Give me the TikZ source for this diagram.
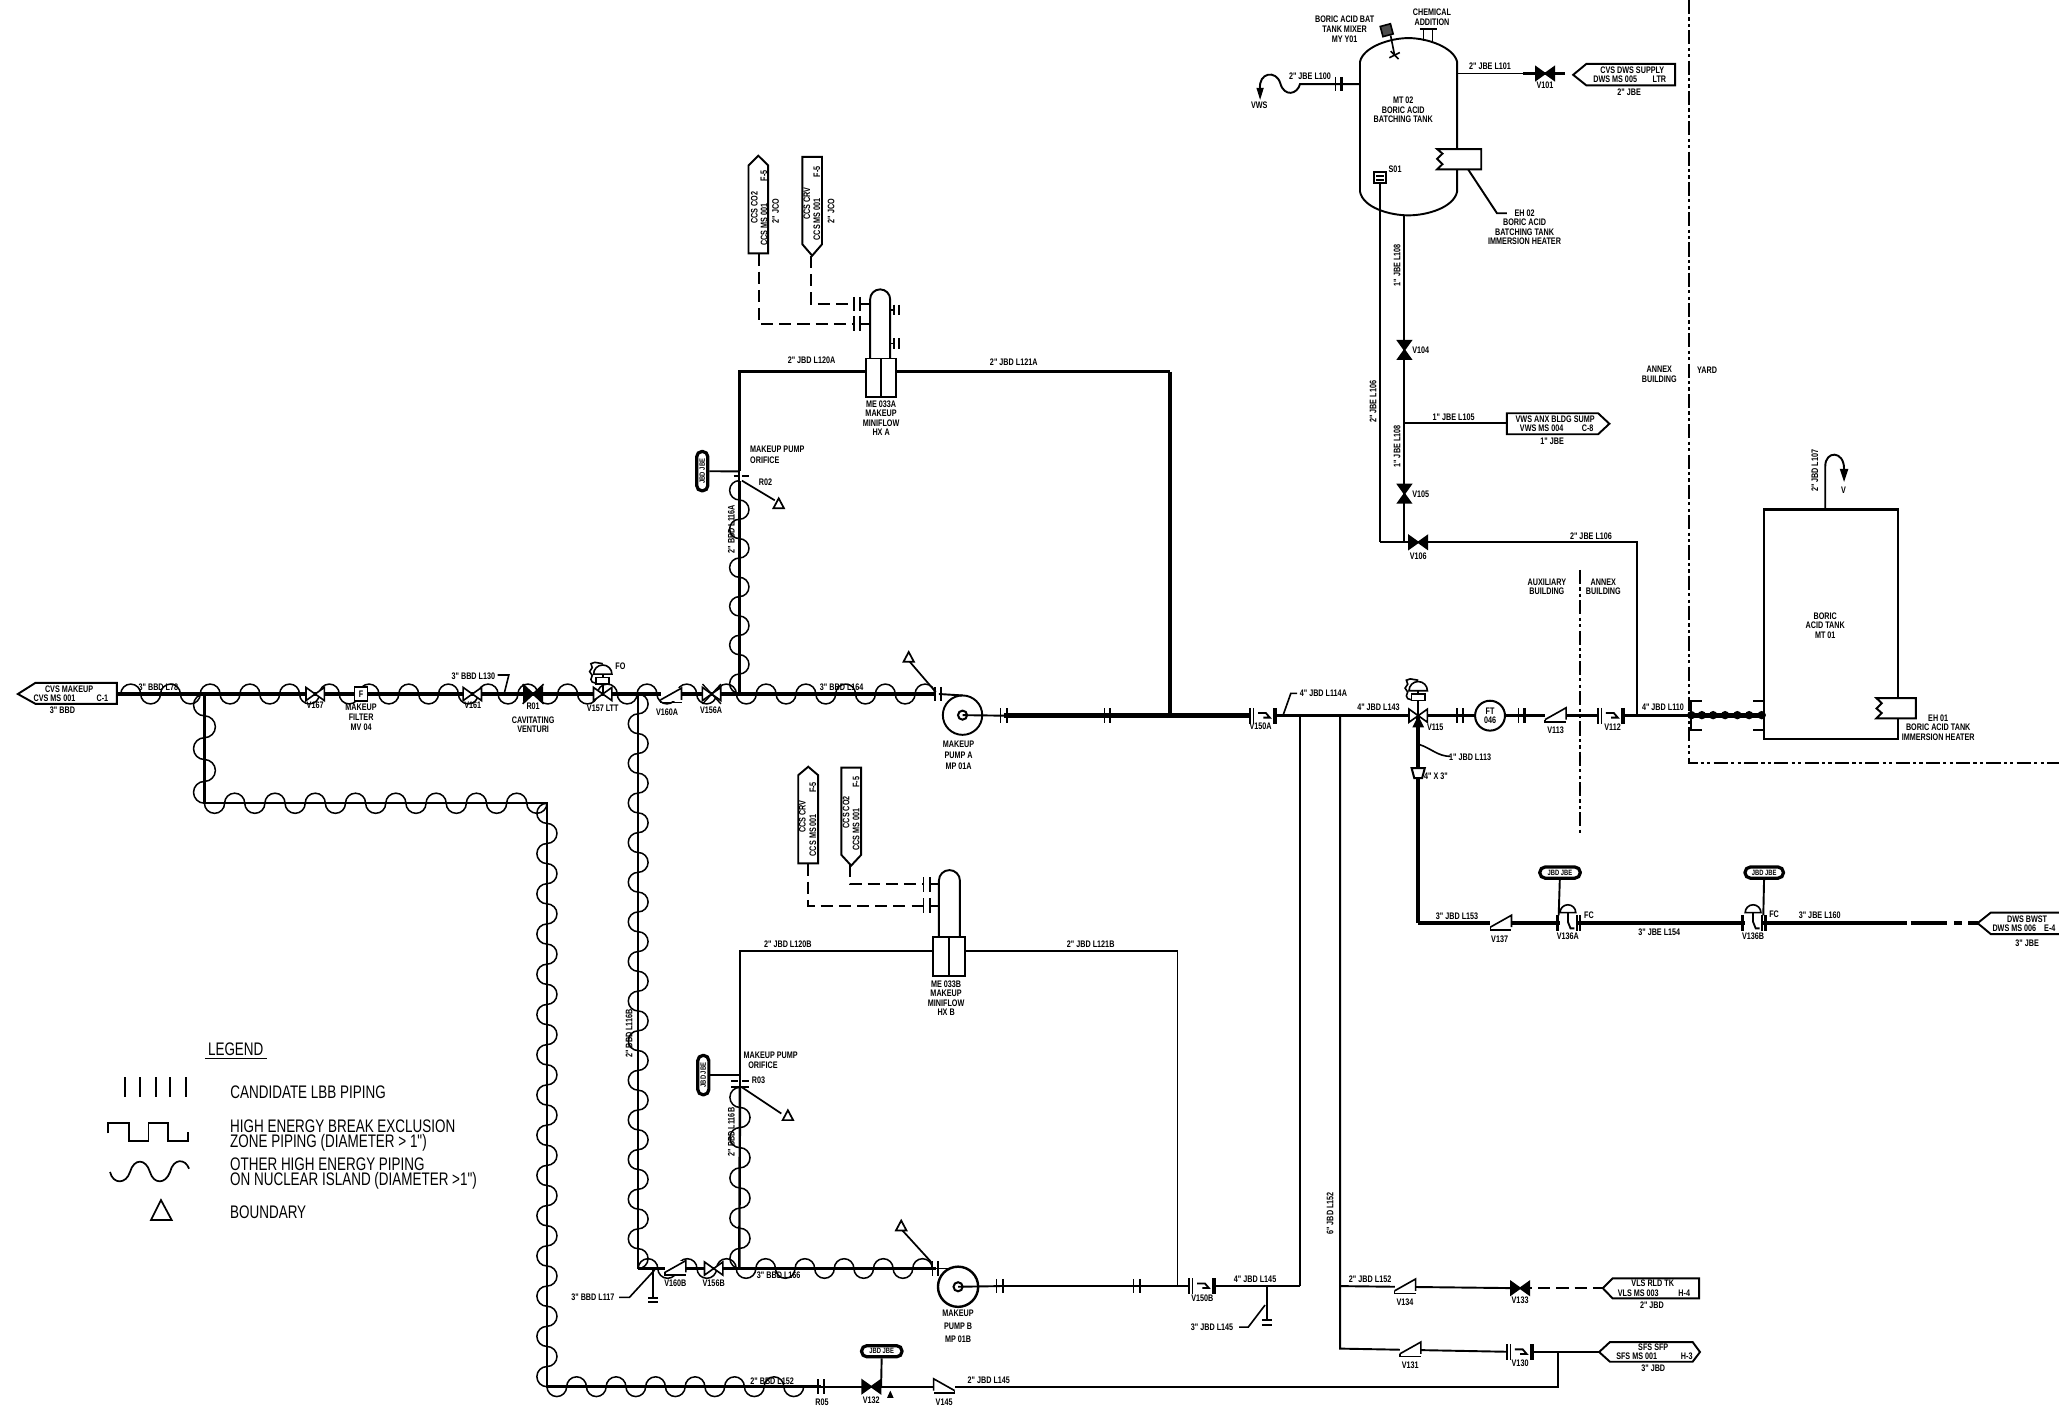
\documentclass[tikz,border=0pt]{standalone}
\usepackage{fontspec}
\setmainfont{Liberation Sans}
\newfontfamily\labf[FakeStretch=0.76]{Liberation Sans}
\newfontfamily\legf[FakeStretch=0.74]{Liberation Sans}
\newcounter{lb}
\newcommand\lab[3][]{\stepcounter{lb}\node[lbl,#1] (lb\arabic{lb}) at (#2) {#3};}
\newcommand\leg[3][]{\stepcounter{lb}\node[legt,#1] (lb\arabic{lb}) at (#2) {#3};}
% horizontal wave: x0,x1,y,n half-lobes,phase
\newcommand\hwave[5]{%
  \pgfmathsetmacro\wst{(#2-#1)/#4}\pgfmathsetmacro\wr{\wst/2}%
  \foreach \i in {1,...,#4}{%
    \pgfmathsetmacro\xs{#1+(\i-1)*\wst}%
    \pgfmathtruncatemacro\ph{\i+#5}%
    \ifodd\ph\relax
      \draw[wavy] (\xs,#3) arc[start angle=180,end angle=360,radius=\wr];
    \else
      \draw[wavy] (\xs,#3) arc[start angle=180,end angle=0,radius=\wr];
    \fi}}
% vertical wave: x,y0,y1,n,phase
\newcommand\vwave[5]{%
  \pgfmathsetmacro\wst{(#3-#2)/#4}\pgfmathsetmacro\wr{\wst/2}%
  \foreach \i in {1,...,#4}{%
    \pgfmathsetmacro\ys{#2+(\i-1)*\wst}%
    \pgfmathtruncatemacro\ph{\i+#5}%
    \ifodd\ph\relax
      \draw[wavy] (#1,\ys) arc[start angle=270,end angle=450,radius=\wr];
    \else
      \draw[wavy] (#1,\ys) arc[start angle=270,end angle=90,radius=\wr];
    \fi}}
\tikzset{
  lbl/.style={inner sep=0pt,align=center,font=\labf\bfseries\fontsize{4.7}{4.7}\selectfont},
  ovt/.style={inner sep=0pt,align=center,font=\labf\bfseries\fontsize{3.8}{3.8}\selectfont},
  legt/.style={inner sep=0pt,align=left,anchor=west,font=\legf\fontsize{9}{9}\selectfont},
  pipeA/.style={line width=2.2pt},
  pipeB/.style={line width=1.7pt},
  pipeC/.style={line width=1.2pt},
  pipeD/.style={line width=.95pt},
  dpipe/.style={line width=.95pt,dash pattern=on 6pt off 3pt},
  wavy/.style={line width=.75pt},
  shell/.style={line width=.95pt,fill=white},
  tagbox/.style={line width=.95pt,fill=white},
  boundary/.style={line width=1.1pt,dash pattern=on 7pt off 1.6pt on 1.6pt off 1.6pt on 1.6pt off 1.6pt},
  ovaltag/.style={draw,fill=white,line width=1.6pt,rounded corners=2.6pt,inner sep=0pt},
  bowO/.pic={\draw[line width=.8pt,fill=white] (-7,-5)--(0,0)--(-7,5)--cycle (7,-5)--(0,0)--(7,5)--cycle;},
  bowF/.pic={\draw[line width=.8pt,fill=black] (-7,-5)--(0,0)--(-7,5)--cycle (7,-5)--(0,0)--(7,5)--cycle;},
  chk/.pic={\fill[white] (-8,-6) rectangle (8,4);
    \draw[line width=.8pt] (-8,3)--(8,-6)--(8,3);
    \draw[line width=.8pt] (-8,3)--(-8,5)--(8,5);},
  flg/.pic={\draw[line width=.7pt] (-2.6,-5.5)--(-2.6,5.5);\draw[line width=1.1pt] (2,-5.5)--(2,5.5);},
  ballv/.pic={\fill[white] (-10,-6) rectangle (9,6);
    \draw[line width=.7pt] (-10,-6)--(-10,6) (-7.5,-6)--(-7.5,6);
    \draw[line width=.9pt] (-4,-2)--(2,-2)--(5,1.5)--(0,1.5);
    \draw[line width=2pt] (9,-6)--(9,6);},
  actu/.pic={\draw[line width=.8pt,fill=white] (-5,-2.5) rectangle (5,2.5);
    \draw[line width=.8pt] (0,-5)--(0,-2.5);
    \draw[line width=.8pt,fill=white] (-7,-5) arc[start angle=180,end angle=360,radius=7] --cycle;
    \draw[line width=.8pt] (0,-13)--(-6,-14)--(-9,-13)--(-8,-10)--(-10,-7)--(-8,-4)--(-9,-1)--(-8,1)--(-5,2);},
  airv/.pic={\fill[white] (-6,-5) rectangle (6,5);
    \draw[line width=1.4pt] (-8,-6)--(-8,6);
    \draw[line width=.8pt] (7,-6)--(7,6);\draw[line width=1.1pt] (9.5,-6)--(9.5,6);
    \draw[line width=.9pt] (0,-8)--(0,-1)--(2,4)--(5,4);
    \draw[line width=.8pt,fill=white] (-6,-8) arc[start angle=180,end angle=360,radius=6] --cycle;},
  bndry/.pic={\draw[line width=.85pt,fill=white] (0,-4.5)--(-4,3)--(4,3)--cycle;},
}
\begin{document}
\begin{tikzpicture}[x=.65pt,y=-.65pt]
\useasboundingbox (0,0) rectangle (1568,1072);
\fill[white] (0,0) rectangle (1568,1072);

% ---------- named points ----------
\coordinate (tagCVSe) at (89,528.5);
\coordinate (jA) at (155.7,528.5);
\coordinate (jB) at (486,528.5);
\coordinate (jC) at (563,528.5);
\coordinate (mEnd) at (712,528.5);
\coordinate (fA) at (715,528.5);
\coordinate (jD) at (155.7,611.7);
\coordinate (jE) at (416.5,611.7);
\coordinate (jF) at (416.5,1056);
\coordinate (fR05) at (625.4,1056);
\coordinate (vV132) at (663.5,1056);
\coordinate (vV145) at (719,1056);
\coordinate (jG) at (1186.6,1056);
\coordinate (jH) at (1186.6,1029.6);
\coordinate (fB) at (712.5,966);
\coordinate (jI) at (486,966);
\coordinate (jJ) at (563,966);
\coordinate (oA) at (563,366);
\coordinate (oAt) at (563,359);
\coordinate (cA) at (563,283);
\coordinate (cB) at (891,283);
\coordinate (jK) at (891,545);
\coordinate (f1) at (764.6,545);
\coordinate (f2) at (843.5,545);
\coordinate (vV150A) at (962,545);
\coordinate (j990) at (990,545);
\coordinate (j1020) at (1020.5,545);
\coordinate (vV115) at (1080,545);
\coordinate (f3) at (1112,545);
\coordinate (f4) at (1159,545);
\coordinate (vV113) at (1184.6,545);
\coordinate (vV112) at (1227,545);
\coordinate (j1246) at (1246.6,545);
\coordinate (wall) at (1288,545);
\coordinate (tankin) at (1343,545);
\coordinate (cC) at (1080,703);
\coordinate (vV137) at (1143,703);
\coordinate (vV136A) at (1194,703);
\coordinate (vV136B) at (1335,703);
\coordinate (dA) at (1452,703);
\coordinate (dB) at (1455,703);
\coordinate (dC) at (1483,703);
\coordinate (dD) at (1488,703);
\coordinate (dE) at (1494,703);
\coordinate (dF) at (1499,703);
\coordinate (tagBWST) at (1506,703);
\coordinate (cD) at (1246.6,413);
\coordinate (vV106) at (1080,413);
\coordinate (j1069) at (1069.5,413);
\coordinate (cE) at (1051,413);
\coordinate (s01) at (1051,139);
\coordinate (tb) at (1069.5,164);
\coordinate (vV105) at (1069.5,376);
\coordinate (jL) at (1069.5,322);
\coordinate (vV104) at (1069.5,266.5);
\coordinate (tagVWS) at (1147.5,322);
\coordinate (btL) at (1035.7,64);
\coordinate (f5) at (1019.5,64);
\coordinate (btR) at (1109.6,56);
\coordinate (vV101) at (1176.6,56);
\coordinate (vEnd) at (1192,56);
\coordinate (j990b) at (990,979.4);
\coordinate (j964) at (964.6,979.4);
\coordinate (d964) at (964.6,1005.3);
\coordinate (vV150B) at (915.6,979.4);
\coordinate (j897) at (896.7,979.4);
\coordinate (f6) at (866,979.4);
\coordinate (f7) at (761.6,979.4);
\coordinate (cF) at (896.7,724);
\coordinate (cG) at (563.5,724);
\coordinate (oB) at (563.5,818.7);
\coordinate (oBb) at (563.5,828);
\coordinate (j1020b) at (1020.5,979.4);
\coordinate (vV134) at (1070,980);
\coordinate (vV133) at (1157.6,981);
\coordinate (tagVLS) at (1220.6,981);
\coordinate (cH) at (1020.5,1027);
\coordinate (vV131) at (1074,1028);
\coordinate (vV130) at (1157.6,1029.6);
\coordinate (tagSFS) at (1217.8,1029.6);

% ---------- equipment ----------
\node[circle,draw,line width=.95pt,minimum size=19.5pt,inner sep=0pt] (pumpA) at (733,544.6) {};
\node[circle,draw,line width=1.2pt,minimum size=19.9pt,inner sep=0pt] (pumpB) at (729.6,979.9) {};
\node[draw,line width=1pt,minimum width=66.3pt,minimum height=113.75pt,inner sep=0pt] (tankBA) at (1394,475.5) {};

% ---------- pipes ----------
\draw[pipeA] (tagCVSe)--(jA)--(jB)--(jC)--(mEnd);
\draw[pipeB] (jC)--(oA);
\draw[pipeD] (oAt)--(oA);
\draw[pipeB] (oAt)--(cA)--(cB);
\draw[pipeA] (cB)--(jK);
\draw[pipeD] (pumpA.center)--(f1);
\draw[pipeD] (fA)--(733,529.6);
\draw[pipeA] (f1)--(f2)--(jK)--(vV150A);
\draw[pipeB] (vV150A)--(j990)--(j1020)--(vV115);
\draw[pipeB] (vV115)--(f3);
\draw[pipeB] (f4)--(vV113)--(vV112)--(j1246)--(wall);
\draw[pipeA] (wall)--(tankin);
\draw[pipeC] (jA)--(jD);
\draw[pipeC] (jD)--(jE)--(jF)--(fR05);
\draw[pipeD] (fR05)--(vV132)--(vV145);
\draw[pipeD] (vV145)--(jG)--(jH);
\draw[pipeC] (jB)--(jI);
\draw[pipeC] (jI)--(jJ)--(fB);
\draw[pipeC] (jJ)--(oBb);
\draw[pipeD] (oBb)--(oB)--(cG)--(cF)--(j897);
\draw[pipeD] (fB)--(722,966);
\draw[pipeD] (pumpB.center)--(f7);
\draw[pipeC] (f7)--(f6)--(vV150B);
\draw[pipeC] (vV150B)--(j964)--(j990b);
\draw[pipeD] (j964)--(d964);
\draw[pipeD] (j990)--(j990b);
\draw[pipeD] (j1020)--(cH)--(vV131)--(vV130);
\draw[pipeC] (vV130)--(jH)--(tagSFS);
\draw[pipeD] (j1020b)--(vV134)--(vV133);
\draw[dpipe] (vV133)--(tagVLS);
\draw[pipeB] (vV115)--(cC);
\draw[pipeB] (cC)--(vV137)--(vV136A)--(vV136B)--(dA);
\draw[pipeB] (dB)--(dC) (dD)--(dE) (dF)--(tagBWST);
\draw[pipeD] (j1246)--(cD)--(vV106);
\draw[pipeD] (vV106)--(j1069)--(cE);
\draw[pipeD] (btR)--(vV101);
\draw[pipeB] (1160,56)--(vV101)--(vEnd);
\draw[pipeD] (btL)--(f5)--(990,64) .. controls (988,72) and (978,74) .. (975,63.5) .. controls (972,53) and (958,55) .. (959.6,68);
\fill (959.6,76)--(956.8,67)--(962.4,67)--cycle;

% ---------- waves ----------
\hwave{92}{712}{528.5}{41}{0}
\vwave{563}{366}{528}{11}{1}
\vwave{155.7}{528.5}{611.7}{5}{1}
\hwave{155.7}{416.5}{611.7}{17}{1}
\vwave{416.5}{611.7}{1056}{29}{1}
\hwave{416.5}{612}{1056}{13}{1}
\vwave{486}{528.5}{966}{29}{0}
\hwave{486}{710}{966}{15}{0}
\vwave{563.5}{828}{966}{9}{1}

% ---------- batching tank ----------
\draw[shell] (1035.7,47)--(1035.7,146) .. controls (1038,158) and (1058,164) .. (1072.6,164) .. controls (1087,164) and (1107,158) .. (1109.6,146)--(1109.6,47) .. controls (1107,36) and (1087,29) .. (1072.6,29) .. controls (1058,29) and (1038,36) .. (1035.7,47)--cycle;
\draw[pipeC] (s01)--(cE);
\draw[pipeD] (tb)--(j1069);
\draw[pipeD] (jL)--(tagVWS);
\draw[line width=.8pt,fill=white] (1046.5,130.8) rectangle (1055.5,139.2);
\draw[line width=.8pt] (1048,134)--(1054,134) (1048,137)--(1054,137);
\draw[line width=.8pt] (1084,31)--(1084,22) (1091,31)--(1091,22);
\draw[line width=1pt] (1081,22)--(1094,22);
\draw[line width=.8pt] (1059,27)--(1062,42);
\draw[line width=.8pt] (1058,44)--(1066,40) (1059,39)--(1065,45);
\draw[line width=.8pt,fill=black!70,rotate around={15:(1056,23)}] (1052,19) rectangle (1060,27);
\draw[shell] (1128,113.5)--(1094.4,113.5)--(1098.5,117)--(1094.4,121)--(1098.5,125)--(1094.4,129)--(1128,129)--cycle;
\draw[pipeD] (1118,129)--(1140,162.4)--(1147.6,162.4);

% ---------- boric acid tank ----------
\draw[pipeD] (1390,388)--(1390,355) .. controls (1390,343) and (1404.3,343) .. (1404.3,357);
\fill (1404.3,367)--(1401,357)--(1407.6,357)--cycle;
\draw[shell] (1459,531.7)--(1429,531.7)--(1433,535.5)--(1429,539.5)--(1433,543)--(1429,547)--(1459,547)--cycle;
\foreach \x in {1288,1296,1304.6,1313.7,1323,1332,1341.6}{\fill (\x,544.6) circle[radius=3.2];}
\draw[line width=1pt] (1296,533.6)--(1288,533.6)--(1288,556)--(1296,556);
\draw[line width=1pt] (1335,533.6)--(1343,533.6) (1335,556)--(1343,556);

% ---------- boundaries ----------
\draw[boundary] (1286,0)--(1286,581)--(1568,581);
\draw[boundary] (1203,434)--(1203,636);

% ---------- miniflow A ----------
\draw[line width=.95pt,fill=white] (662.6,273)--(662.6,228) arc[start angle=180,end angle=360,radius=7.65]--(677.9,273);
\draw[line width=.95pt,fill=white] (659.5,273) rectangle (682,302.5);
\draw[line width=.95pt] (670.7,273)--(670.7,302.5);
\draw[pipeD] (662.6,231.6)--(656,231.6) (662.6,246.5)--(656,246.5);
\pic at (653,231.6) {flg}; \pic at (653,246.5) {flg};
\draw[pipeD] (677.9,236)--(680,236) (677.9,261.6)--(680,261.6);
\draw[line width=.8pt] (681,232)--(681,240) (684.5,232)--(684.5,240) (681,257.6)--(681,265.6) (684.5,257.6)--(684.5,265.6);
\coordinate (T1b) at (577.7,193); \coordinate (T1c) at (577.7,246.5); \coordinate (T1d) at (650,246.5);
\coordinate (T2b) at (617.8,195); \coordinate (T2c) at (617.8,231.6); \coordinate (T2d) at (650,231.6);
\draw[dpipe] (T1b)--(T1c)--(T1d);
\draw[dpipe] (T2b)--(T2c)--(T2d);
\draw[tagbox] (570,193)--(570,126)--(577.5,118.6)--(585,126)--(585,193)--cycle;
\draw[tagbox] (611,119.5)--(626,119.5)--(626,186)--(618.5,194.7)--(611,186)--cycle;

% ---------- miniflow B ----------
\draw[line width=.95pt,fill=white] (715,713.8)--(715,670.6) arc[start angle=180,end angle=360,radius=8]--(731,713.8);
\draw[line width=.95pt,fill=white] (710.6,713.8) rectangle (734.9,743.4);
\draw[line width=.95pt] (722.7,713.8)--(722.7,743.4);
\draw[pipeD] (715,673.5)--(709,673.5) (715,689.7)--(709,689.7);
\pic at (706,673.5) {flg}; \pic at (706,689.7) {flg};
\coordinate (T3b) at (615.6,657.5); \coordinate (T3c) at (615.6,689.7); \coordinate (T3d) at (703,689.7);
\coordinate (T4b) at (647.5,659); \coordinate (T4c) at (647.5,673.5); \coordinate (T4d) at (703,673.5);
\draw[dpipe] (T3b)--(T3c)--(T3d);
\draw[dpipe] (T4b)--(T4c)--(T4d);
\draw[tagbox] (607.9,657.5)--(607.9,590.3)--(615.5,583.9)--(623,590.3)--(623,657.5)--cycle;
\draw[tagbox] (640.7,584.6)--(655.8,584.6)--(655.8,651)--(648.2,659.2)--(640.7,651)--cycle;

% ---------- pumps details ----------
\node[circle,draw,line width=1pt,minimum size=4.5pt,inner sep=0pt] (pumpAi) at (733,544.6) {};
\node[circle,draw,line width=1pt,minimum size=4.5pt,inner sep=0pt] (pumpBi) at (729.6,979.9) {};
\pic at (714.5,528.5) {flg};
\pic at (712.5,966) {flg};
\pic at (f1) {flg}; \pic at (f2) {flg};
\pic at (f3) {flg}; \pic at (f4) {flg};
\pic at (f5) {flg};
\pic at (f6) {flg}; \pic at (f7) {flg};
\pic at (fR05) {flg};

% flow transmitter
\node[circle,draw,fill=white,line width=1pt,minimum size=14.8pt,inner sep=0pt,lbl] (ftN) at (1134.7,545) {FT\\046};
\draw[pipeC] (f3)--(ftN) (ftN)--(f4);

% ---------- valves ----------
\pic at (240,528.5) {bowO};
\draw[line width=.8pt,fill=white] (270,523) rectangle (280,534);
\node[lbl] (filtF) at (275,528.5) {F};
\pic at (359.7,528.5) {bowO};
\pic at (406,528.5) {bowF};
\draw[line width=.8pt] (398,521)--(414,536) (398,536)--(414,521);
\pic at (459,528.5) {bowO};
\pic at (459,518.4) {actu};
\draw[line width=.8pt] (459,521)--(459,528.5);
\pic[xscale=1] at (511,530) {chk};
\pic at (541.9,528.5) {bowO};
\draw[line width=.7pt] (535,521)--(549,536) (535,536)--(549,521);
\pic at (514.3,966) {chk};
\pic at (543.5,966) {bowO};
\pic at (vV150A) {ballv};
\pic at (vV150B) {ballv};
\pic at (vV112) {ballv};
\pic at (vV130) {ballv};
\pic at (vV113) {chk};
\pic at (vV137) {chk};
\pic at (vV134) {chk};
\pic at (vV131) {chk};
\pic[xscale=-1] at (vV145) {chk};
\pic at (vV115) {bowO};
\fill (vV115)--(1075.5,554)--(1084.5,554)--cycle;
\pic at (1080,531) {actu};
\draw[line width=.8pt] (1080,533.5)--(vV115);
\draw[line width=1pt,fill=white] (1075,585)--(1085,585)--(1083,592.5)--(1077,592.5)--cycle;
\pic at (vV132) {bowF};
\pic at (vV133) {bowF};
\pic at (vV101) {bowF};
\pic[rotate=90] at (vV104) {bowF};
\pic[rotate=90] at (vV105) {bowF};
\pic at (vV106) {bowF};
\pic at (vV136A) {airv};
\pic at (vV136B) {airv};
\fill (678,1059)--(675.5,1064.5)--(680.5,1064.5)--cycle;

% orifices
\draw[line width=1pt] (558.7,362.6)--(563,362.6) (565,362.6)--(570,362.6);
\draw[line width=1pt] (557,823)--(562,823) (565,823)--(570,823);
\draw[line width=1pt] (557,827.6)--(570,827.6);

% oval instrument tags
\node[ovaltag,minimum width=5.5pt,minimum height=19.5pt] (ovA) at (534.8,358.8) {};
\node[ovaltag,minimum width=5.5pt,minimum height=19.5pt] (ovB) at (535.6,818.7) {};
\node[ovaltag,minimum width=20pt,minimum height=5.5pt] (ovC) at (1188,664.5) {};
\node[ovaltag,minimum width=19pt,minimum height=5.5pt] (ovD) at (1343.5,664.5) {};
\node[ovaltag,minimum width=20pt,minimum height=5.5pt] (ovE) at (671.5,1029) {};
\draw[pipeD] (ovA)--(oAt);
\draw[pipeD] (ovB)--(oB);
\draw[pipeD] (ovC)--(1187,697);
\draw[pipeD] (ovD)--(1342.8,697);
\draw[pipeD] (ovE)--(671,1056);
\lab[ovt,rotate=90]{534.8,358.8}{JBD JBE}
\lab[ovt,rotate=90]{535.6,818.7}{JBD JBE}
\lab[ovt]{1188,664.5}{JBD JBE}
\lab[ovt]{1343.5,664.5}{JBD JBE}
\lab[ovt]{671.5,1029}{JBD JBE}

% boundary flags
\draw[line width=.85pt] (712.6,527)--(692,503);
\pic at (692,501) {bndry};
\draw[line width=.85pt] (710,962)--(686.3,936);
\pic at (686.3,934) {bndry};
\draw[line width=.85pt] (565,366)--(590,381);
\pic at (593,384) {bndry};
\draw[line width=.85pt] (565,828)--(595,848);
\pic at (600,850) {bndry};

% drains and leaders
\draw[pipeD] (497.3,966)--(497.3,988.5);
\draw[line width=1pt] (493.8,988.5)--(500.8,988.5) (493.8,991.6)--(500.8,991.6);
\draw[line width=.8pt] (471.4,988)--(479.3,988)--(498.6,967);
\draw[line width=1pt] (961,1005.3)--(969,1005.3) (961,1009)--(969,1009);
\draw[line width=.8pt] (943.6,1010.6)--(950.6,1010.6)--(963.4,993.8);
\draw[line width=.8pt] (379,514)--(387.5,514)--(384,528);
\draw[line width=.8pt] (987.7,528)--(983,528)--(977,545);
\draw[line width=.8pt] (1081,567) .. controls (1090,570) and (1095,576) .. (1104.6,576);

% ---------- tags ----------
\draw[tagbox] (13.6,528.5)--(27,520)--(89,520)--(89,536)--(27,536)--cycle;
\draw[tagbox] (1198,57)--(1208,48.7)--(1275.6,48.7)--(1275.6,65)--(1208,65)--cycle;
\draw[tagbox] (1147.5,314.7)--(1217,314.7)--(1225.6,322.7)--(1217,330.7)--(1147.5,330.7)--cycle;
\draw[tagbox] (1220.6,981)--(1228,973.5)--(1293.9,973.5)--(1293.9,988.7)--(1228,988.7)--cycle;
\draw[tagbox] (1217.8,1029.6)--(1226,1022)--(1289,1022)--(1294.6,1029.6)--(1289,1037)--(1226,1037)--cycle;
\draw[line width=.95pt] (1572,695)--(1516,695)--(tagBWST)--(1516,711.3)--(1572,711.3);

% ---------- texts ----------
\lab{52.6,525}{CVS MAKEUP}
\lab{41.5,531.8}{CVS MS 001}
\lab{78,531.8}{C-1}
\lab{47.6,541}{3" BBD}
\lab{120.6,523}{3" BBD L78}
\lab{240,537}{V167}
\lab{275,546}{MAKEUP\\[.2pt]FILTER\\[.2pt]MV 04}
\lab{360,537}{V161}
\lab{406,538}{R01}
\lab{406,552}{CAVITATING\\VENTURI}
\lab{360.5,514.8}{3" BBD L130}
\lab{459,539}{V157 LTT}
\lab{472.5,507.7}{FO}
\lab{508,542.5}{V160A}
\lab{541.5,541}{V156A}
\lab{641,523}{3" BBD L164}
\lab[rotate=90]{557,403}{2" BBD L116A}
\lab[align=left,anchor=north west]{571,339.5}{MAKEUP PUMP\\[.5pt]ORIFICE}
\lab{583,367}{R02}
\lab{618,274}{2" JBD L120A}
\lab{772,276}{2" JBD L121A}
\lab{671,318.5}{ME 033A\\MAKEUP\\MINIFLOW\\HX A}
\lab{730,575}{MAKEUP\\[.8pt]PUMP A\\[.8pt]MP 01A}
\lab[rotate=90]{574.5,158}{CCS CO2}
\lab[rotate=90]{581.8,171}{CCS MS 001}
\lab[rotate=90]{581.8,134}{F-5}
\lab[rotate=90]{590.7,160.8}{2" JCO}
\lab[rotate=90]{614.4,155}{CCS CRV}
\lab[rotate=90]{622,167}{CCS MS 001}
\lab[rotate=90]{622,130.7}{F-5}
\lab[rotate=90]{633,160.8}{2" JCO}
\lab[rotate=90]{611,622}{CCS CRV}
\lab[rotate=90]{619,636}{CCS MS 001}
\lab[rotate=90]{619,599.7}{F-5}
\lab[rotate=90]{644.3,618.6}{CCS CO2}
\lab[rotate=90]{652,632}{CCS MS 001}
\lab[rotate=90]{652,595.7}{F-5}
\lab{600,719}{2" JBD L120B}
\lab{830.6,719}{2" JBD L121B}
\lab{720.5,760}{ME 033B\\MAKEUP\\MINIFLOW\\HX B}
\lab[align=left,anchor=north west]{566,800.5}{MAKEUP PUMP}
\lab{581,811.5}{ORIFICE}
\lab{577.7,823}{R03}
\lab[rotate=90]{479,787}{2" BBD L116B}
\lab[rotate=90]{557,862}{2" BBD L116B}
\lab{451.5,988}{3" BBD L117}
\lab{514.3,977}{V160B}
\lab{543.5,977}{V156B}
\lab{593,971}{3" BBD L166}
\lab{729.6,1010}{MAKEUP\\[1.5pt]PUMP B\\[1.5pt]MP 01B}
\lab{915.6,989}{V150B}
\lab{923,1010.5}{3" JBD L145}
\lab{955.8,974}{4" JBD L145}
\lab{960,553}{V150A}
\lab{1007.8,528.3}{4" JBD L114A}
\lab[rotate=90]{1013,924}{6" JBD L152}
\lab{1049.7,538.4}{4" JBD L143}
\lab{1093,553.7}{V115}
\lab{1119.5,576.6}{1" JBD L113}
\lab{1093.5,591}{4" X 3"}
\lab{1184.6,556}{V113}
\lab{1228,553.8}{V112}
\lab{1266.4,538.4}{4" JBD L110}
\lab{1178,447}{AUXILIARY\\BUILDING}
\lab{1221,447}{ANNEX\\BUILDING}
\lab{1263.6,285}{ANNEX\\BUILDING}
\lab{1300,282}{YARD}
\lab{1211.6,408}{2" JBE L106}
\lab{1080,423.6}{V106}
\lab{1082,376}{V105}
\lab{1082,267}{V104}
\lab[rotate=90]{1064,340}{1" JBE L108}
\lab[rotate=90]{1064,202}{1" JBE L108}
\lab[rotate=90]{1045.7,306}{2" JBE L106}
\lab{1107,317.5}{1" JBE L105}
\lab{1184.3,319.3}{VWS ANX BLDG SUMP}
\lab{1174,326}{VWS MS 004}
\lab{1209,326}{C-8}
\lab{1182,336}{1" JBE}
\lab{1024,22.5}{BORIC ACID BAT\\[.3pt]TANK MIXER\\[.3pt]MY Y01}
\lab{1090.5,13}{CHEMICAL\\ADDITION}
\lab{997.6,58}{2" JBE L100}
\lab{959,80.5}{VWS}
\lab{1068.6,83.8}{MT 02\\BORIC ACID\\BATCHING TANK}
\lab{1062.4,129}{S01}
\lab{1134.7,50.8}{2" JBE L101}
\lab{1176.6,64.7}{V101}
\lab{1243,53.3}{CVS DWS SUPPLY}
\lab{1230,60.4}{DWS MS 005}
\lab{1263.7,60.4}{LTR}
\lab{1240.6,70.3}{2" JBE}
\lab{1161,173}{EH 02\\BORIC ACID\\BATCHING TANK\\IMMERSION HEATER}
\lab[rotate=90]{1382,358.5}{2" JBD L107}
\lab{1403.8,373}{V}
\lab{1390,476.3}{BORIC\\ACID TANK\\MT 01}
\lab{1476,554}{EH 01\\BORIC ACID TANK\\IMMERSION HEATER}
\lab{1109.6,697.6}{3" JBD L153}
\lab{1142,715}{V137}
\lab{1194,712.8}{V136A}
\lab{1210,697}{FC}
\lab{1263.6,710}{3" JBE L154}
\lab{1335,712.8}{V136B}
\lab{1351,696}{FC}
\lab{1385.8,697}{3" JBE L160}
\lab{1543.7,700}{DWS BWST}
\lab{1534,707}{DWS MS 006}
\lab{1561,707}{E-4}
\lab{1543.7,718.5}{3" JBE}
\lab{1043.4,974}{2" JBD L152}
\lab{1070,991.4}{V134}
\lab{1157.6,990}{V133}
\lab{1258.6,977.3}{VLS RLD TK}
\lab{1247.6,985}{VLS MS 003}
\lab{1282.6,985}{H-4}
\lab{1258,994}{2" JBD}
\lab{1074,1039.3}{V131}
\lab{1157.6,1038}{V130}
\lab{1259,1025.6}{SFS SFP}
\lab{1246.4,1032.7}{SFS MS 001}
\lab{1284.5,1032.7}{H-3}
\lab{1259,1042}{3" JBD}
\lab{626,1068}{R05}
\lab{663.5,1066}{V132}
\lab{719,1067.6}{V145}
\lab{753,1051}{2" JBD L145}
\lab{588,1052}{2" BBD L152}

% ---------- legend ----------
\leg[anchor=center]{179.5,799}{LEGEND}
\draw[line width=.7pt] (156,806)--(203,806);
\foreach \x in {95.2,106.6,118.6,129.5,141.4}{\draw[line width=.85pt] (\x,820.4)--(\x,835.6);}
\leg{175.2,832}{CANDIDATE LBB PIPING}
\draw[line width=.85pt] (82.5,863)--(82.5,855)--(98.3,855)--(98.3,869)--(113,869)--(113,855)--(128.2,855)--(128.2,869)--(143.4,869)--(143.4,862);
\leg{175,857.6}{HIGH ENERGY BREAK EXCLUSION}
\leg{175,870.2}{ZONE PIPING (DIAMETER > 1")}
\draw[line width=.85pt] (83.8,892.5) .. controls (86,902) and (96,902) .. (99,892.5) .. controls (102,882) and (111,882) .. (114.2,892.5) .. controls (117,902) and (126,902) .. (129.5,892.5) .. controls (132,882) and (141,882) .. (144,890);
\leg{175,886.7}{OTHER HIGH ENERGY PIPING}
\leg{175,899.4}{ON NUCLEAR ISLAND (DIAMETER >1")}
\draw[line width=.85pt] (122.6,913.9)--(115,929)--(130.7,929)--cycle;
\leg{175,922.8}{BOUNDARY}
\end{tikzpicture}
\end{document}
